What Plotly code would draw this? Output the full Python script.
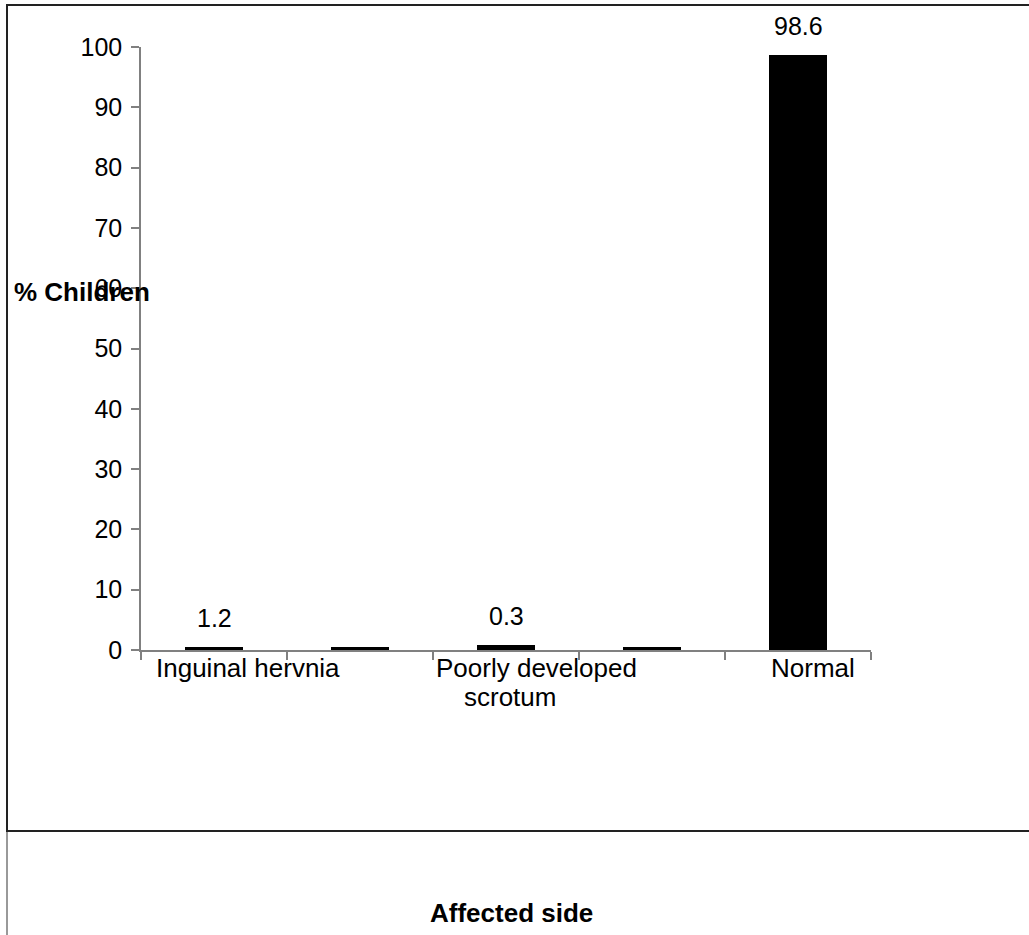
import plotly.graph_objects as go

# ---- data ----
positions = [0, 1, 2, 3, 4]
values = [0.45, 0.45, 0.8, 0.45, 98.6]
value_labels = ["1.2", "", "0.3", "", "98.6"]
category_labels = ["Inguinal hervnia", "", "Poorly developed|scrotum", "", "Normal"]
y_ticks = [0, 10, 20, 30, 40, 50, 60, 70, 80, 90, 100]
y_title = "% Children"
x_title = "Affected side"

FONT = "Liberation Sans, Arial, sans-serif"

fig = go.Figure()
fig.add_trace(go.Bar(
    x=positions, y=values, width=0.4,
    marker=dict(color="black", line=dict(width=0)),
    hoverinfo="skip", showlegend=False,
))

annotations = []
# value labels above bars
for xp, v, lab in zip(positions, values, value_labels):
    if lab:
        annotations.append(dict(x=xp, y=v, xref="x", yref="y", text=lab,
                                showarrow=False, yanchor="bottom", yshift=13,
                                font=dict(family=FONT, size=25, color="black")))

# category labels
label_shifts = {0: [(34, 0)], 2: [(30, 0), (4, 29)], 4: [(15, 0)]}
for xp, lab in zip(positions, category_labels):
    if not lab:
        continue
    lines = lab.split("|")
    for line, (xs, ys) in zip(lines, label_shifts[xp]):
        annotations.append(dict(x=xp, y=0, xref="x", yref="y", text=line,
                                showarrow=False, yanchor="top", xanchor="center",
                                xshift=xs, yshift=-1 - ys,
                                font=dict(family=FONT, size=26, color="black")))

# y title (horizontal, left)
annotations.append(dict(x=-129 / 730, y=59.4, xref="paper", yref="y",
                        text="<b>" + y_title + "</b>", showarrow=False,
                        xanchor="left", yanchor="middle",
                        font=dict(family=FONT, size=26, color="black")))
# x title
annotations.append(dict(x=(511 - 141) / 730, y=(650 - 913) / 603, xref="paper", yref="paper",
                        text="<b>" + x_title + "</b>", showarrow=False,
                        xanchor="center", yanchor="middle",
                        font=dict(family=FONT, size=26, color="black")))

def px_x(p):
    return (p - 141) / 730

def px_y(p):
    return (650 - p) / 603

shapes = [
    # top border
    dict(type="line", xref="paper", yref="paper", x0=px_x(6), x1=px_x(1030),
         y0=px_y(5), y1=px_y(5), line=dict(color="#222", width=2)),
    # left border upper
    dict(type="line", xref="paper", yref="paper", x0=px_x(7), x1=px_x(7),
         y0=px_y(4), y1=px_y(831), line=dict(color="#222", width=2)),
    # left border lower
    dict(type="line", xref="paper", yref="paper", x0=px_x(7), x1=px_x(7),
         y0=px_y(831), y1=px_y(940), line=dict(color="#777", width=1.5)),
    # horizontal separator
    dict(type="line", xref="paper", yref="paper", x0=px_x(6), x1=px_x(1030),
         y0=px_y(831), y1=px_y(831), line=dict(color="#222", width=2)),
]

fig.update_layout(
    width=1029, height=935,
    margin=dict(l=141, r=158, t=47, b=285),
    paper_bgcolor="white", plot_bgcolor="white",
    annotations=annotations, shapes=shapes,
    bargap=0,
    xaxis=dict(
        range=[-0.5, 4.5], showgrid=False, zeroline=False,
        showline=True, linecolor="#808080", linewidth=1.5,
        tickmode="array", tickvals=[-0.5, 0.5, 1.5, 2.5, 3.5, 4.5],
        ticktext=["", "", "", "", "", ""],
        ticks="outside", ticklen=8, tickcolor="#808080", tickwidth=1.5,
        fixedrange=True,
    ),
    yaxis=dict(
        range=[0, 100], showgrid=False, zeroline=False,
        showline=True, linecolor="#808080", linewidth=1.5,
        tickmode="array", tickvals=y_ticks,
        ticks="outside", ticklen=8, tickcolor="#808080", tickwidth=1.5,
        tickfont=dict(family=FONT, size=25, color="black"),
        ticklabelstandoff=4,
        fixedrange=True,
    ),
)

fig.write_html("out.html")
